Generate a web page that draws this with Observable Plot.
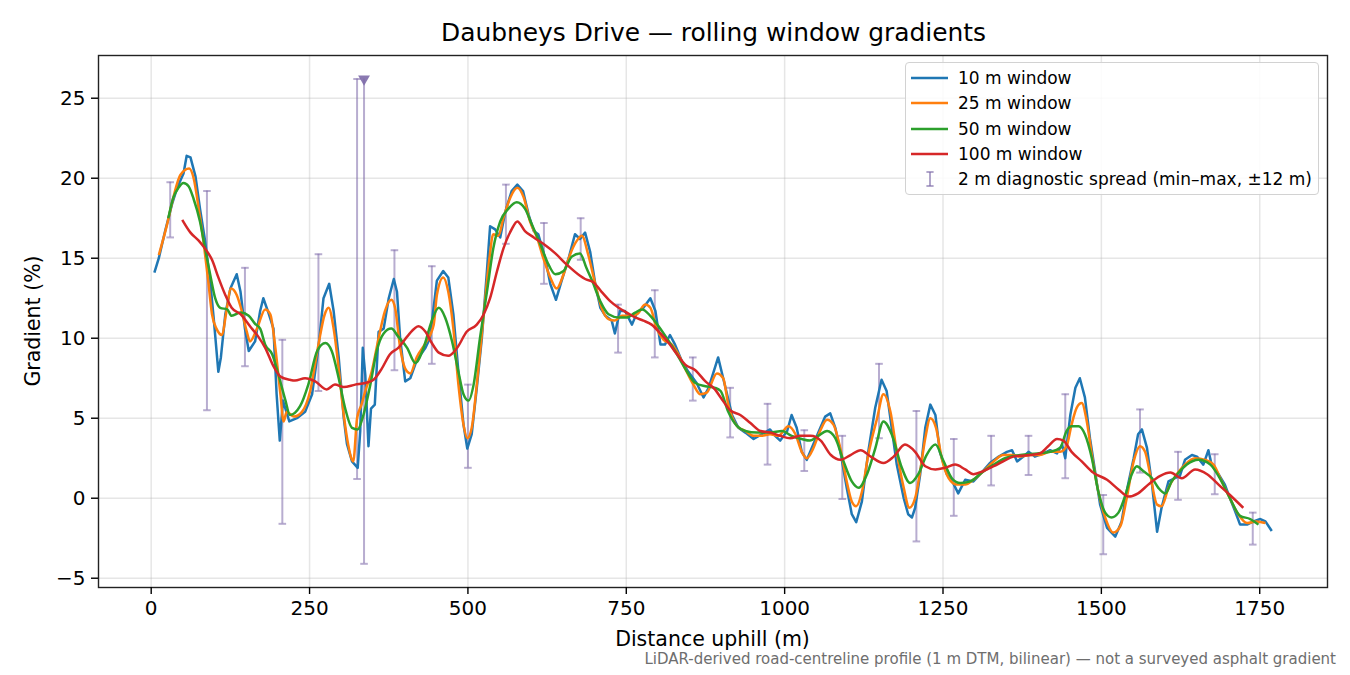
<!DOCTYPE html>
<html><head><meta charset="utf-8">
<script src="https://cdn.jsdelivr.net/npm/d3@7"></script>
<script src="https://cdn.jsdelivr.net/npm/@observablehq/plot@0.6"></script>
<style>
body{margin:0;background:#fff;font-family:"DejaVu Sans",sans-serif;}
#wrap{position:relative;width:1350px;height:675px;overflow:hidden;background:#fff;}
.abs{position:absolute;white-space:nowrap;line-height:1;color:#000;}
</style></head><body><div id="wrap"></div>
<script>
// ---- data: [distance uphill (m), gradient (%)] ----
const win10 = [[5,14.1],[12,15.0],[22,16.7],[33,18.4],[41,19.4],[51,20.3],[56,21.4],[62,21.3],[70,20.1],[77,18.1],[85,16.1],[93,13.6],[99,11.1],[106,7.9],[110,8.8],[117,11.5],[125,13.1],[135,14.0],[141,12.9],[148,10.6],[154,9.2],[164,9.8],[172,11.7],[177,12.5],[185,11.6],[193,10.6],[198,6.5],[203,3.6],[208,6.1],[218,4.8],[230,5.0],[243,5.4],[254,6.5],[264,9.4],[272,12.5],[281,13.4],[288,11.7],[296,8.8],[304,5.0],[309,3.4],[317,2.3],[326,1.9],[330,4.2],[334,9.4],[338,7.7],[343,3.25],[347,5.6],[353,5.85],[359,10.4],[367,10.6],[375,12.5],[383,13.7],[388,12.9],[393,10.0],[401,7.3],[409,7.5],[419,8.6],[433,9.4],[440,10.0],[451,13.6],[461,14.2],[469,13.8],[477,11.5],[485,7.9],[493,4.6],[499,3.1],[506,4.0],[514,6.9],[522,10.0],[530,14.2],[535,17.0],[543,16.8],[551,16.3],[559,17.9],[569,19.2],[578,19.6],[587,19.2],[596,17.7],[604,16.7],[611,16.5],[622,15.0],[630,13.4],[639,12.4],[648,13.6],[659,15.0],[669,16.5],[677,16.2],[685,16.6],[693,15.4],[701,13.4],[709,11.9],[717,11.4],[727,11.1],[732,10.3],[740,11.7],[748,11.7],[759,10.85],[767,11.6],[777,11.9],[788,12.5],[796,11.7],[804,9.6],[811,9.6],[819,10.2],[827,9.6],[838,8.55],[848,7.9],[861,7.2],[872,6.3],[880,6.9],[895,8.8],[903,7.5],[917,5.2],[927,4.4],[938,4.1],[951,3.7],[964,4.0],[977,4.3],[985,3.9],[993,3.6],[1004,4.2],[1011,5.2],[1019,4.4],[1027,2.9],[1035,2.4],[1045,3.35],[1053,4.1],[1064,5.1],[1072,5.3],[1080,4.4],[1088,2.9],[1098,0.65],[1106,-1.0],[1113,-1.5],[1122,-0.2],[1132,2.9],[1143,5.65],[1153,7.4],[1161,6.7],[1169,4.4],[1177,2.1],[1188,0.0],[1195,-1.0],[1201,-1.2],[1206,-0.6],[1214,1.5],[1222,4.4],[1230,5.85],[1238,5.2],[1245,2.9],[1256,1.5],[1266,0.95],[1274,0.3],[1285,1.15],[1298,1.05],[1311,1.6],[1324,2.2],[1338,2.6],[1351,2.9],[1359,3.0],[1367,2.3],[1377,2.6],[1385,2.9],[1395,2.6],[1409,2.8],[1419,3.0],[1430,2.8],[1438,3.35],[1443,2.5],[1451,5.2],[1459,6.9],[1466,7.5],[1474,6.3],[1482,3.75],[1490,1.7],[1498,-0.4],[1509,-1.85],[1522,-2.4],[1532,-1.45],[1540,0.45],[1551,2.5],[1558,4.0],[1564,4.3],[1572,3.15],[1580,0.85],[1588,-2.1],[1595,-0.6],[1606,1.05],[1616,1.25],[1624,1.4],[1632,2.4],[1643,2.7],[1651,2.6],[1661,2.1],[1669,3.0],[1674,2.1],[1685,1.5],[1695,0.85],[1703,0.0],[1711,-0.8],[1719,-1.65],[1730,-1.65],[1740,-1.45],[1751,-1.3],[1759,-1.45],[1769,-2.05]];

const win25 = [[12,15.2],[25,17.1],[35,18.8],[46,20.2],[60,20.6],[67,20.0],[75,18.1],[83,15.9],[90,13.6],[96,11.5],[103,10.6],[112,10.2],[118,11.5],[126,13.1],[135,12.7],[143,11.7],[151,10.4],[156,9.8],[167,10.6],[180,11.8],[188,11.5],[196,9.4],[204,6.5],[209,4.8],[214,5.4],[225,5.1],[238,5.4],[251,6.7],[264,9.6],[274,11.5],[280,11.9],[288,10.6],[296,8.1],[304,5.2],[311,3.35],[319,2.3],[325,5.0],[332,5.85],[338,6.7],[348,7.9],[359,10.0],[369,11.7],[379,12.4],[385,11.9],[393,9.4],[401,8.1],[409,7.8],[419,8.8],[433,9.7],[446,10.85],[451,12.7],[461,13.8],[469,12.9],[477,10.6],[485,7.1],[493,4.6],[499,3.75],[506,4.4],[514,7.1],[525,11.5],[534,15.0],[540,16.5],[548,16.4],[556,17.5],[567,18.8],[578,19.4],[588,18.8],[598,17.3],[609,16.3],[619,15.0],[630,13.8],[640,13.1],[651,14.0],[661,15.2],[672,16.1],[680,16.4],[690,15.2],[701,13.4],[711,11.9],[722,11.2],[732,11.1],[743,11.4],[756,11.4],[767,11.5],[780,12.1],[788,11.9],[798,10.6],[809,9.9],[822,9.6],[832,9.0],[843,8.1],[856,7.1],[867,6.5],[877,6.6],[893,7.8],[903,7.5],[911,5.85],[925,4.5],[938,4.2],[951,3.9],[964,3.9],[977,4.0],[990,3.9],[1006,4.5],[1017,4.0],[1027,2.9],[1035,2.5],[1045,3.1],[1056,4.2],[1067,4.9],[1077,4.6],[1088,3.1],[1098,1.05],[1106,-0.2],[1113,-0.5],[1122,0.4],[1132,2.7],[1146,5.0],[1156,6.5],[1167,5.4],[1177,2.9],[1188,0.65],[1197,-0.6],[1206,0.0],[1214,1.7],[1222,3.75],[1230,5.0],[1239,4.4],[1248,2.5],[1259,1.25],[1272,0.85],[1285,0.85],[1298,1.15],[1314,1.7],[1330,2.3],[1345,2.7],[1361,2.7],[1372,2.6],[1388,2.7],[1403,2.7],[1419,2.9],[1435,2.9],[1445,3.25],[1453,4.6],[1461,5.65],[1469,5.95],[1477,4.8],[1485,2.7],[1495,0.45],[1506,-1.2],[1519,-2.15],[1530,-1.75],[1540,0.0],[1551,2.3],[1561,3.25],[1569,2.9],[1577,1.5],[1588,-0.4],[1595,-0.5],[1606,0.65],[1619,1.5],[1632,2.1],[1648,2.5],[1664,2.4],[1677,2.1],[1690,1.05],[1703,0.0],[1716,-1.0],[1730,-1.55],[1745,-1.45],[1759,-1.55]];

const win50 = [[27,17.5],[35,18.8],[43,19.4],[51,19.7],[59,19.5],[67,18.7],[77,17.3],[85,15.6],[93,14.0],[101,12.5],[109,11.9],[120,11.8],[127,11.4],[141,11.6],[154,11.4],[164,10.9],[172,10.6],[180,9.6],[191,9.0],[201,7.7],[212,6.1],[219,5.2],[235,5.75],[248,7.1],[262,9.2],[275,9.7],[285,9.2],[296,7.5],[306,5.65],[317,4.4],[326,4.3],[335,5.2],[346,7.1],[356,9.2],[367,10.3],[379,10.6],[390,10.1],[404,9.4],[417,8.45],[430,9.4],[443,11.1],[454,11.9],[464,11.3],[475,9.8],[485,7.9],[493,6.5],[501,6.1],[509,7.1],[519,10.0],[530,12.9],[540,15.6],[551,17.3],[564,18.1],[577,18.5],[590,18.1],[601,17.1],[614,15.9],[625,14.8],[638,14.0],[651,14.2],[664,15.1],[677,15.3],[687,14.4],[696,13.6],[709,12.3],[722,11.5],[738,11.3],[751,11.3],[764,11.6],[775,11.8],[788,11.4],[801,10.75],[814,10.0],[827,9.2],[843,8.1],[859,7.2],[875,7.0],[890,6.9],[899,6.7],[911,5.4],[925,4.5],[938,4.2],[956,4.1],[977,4.1],[996,4.2],[1011,3.9],[1027,3.7],[1040,3.6],[1053,3.9],[1067,4.2],[1080,3.75],[1093,2.3],[1106,1.05],[1117,0.65],[1130,1.5],[1143,3.1],[1156,4.8],[1169,4.0],[1185,1.9],[1198,0.95],[1211,1.5],[1224,2.7],[1238,3.35],[1251,2.3],[1264,1.25],[1277,0.95],[1293,1.05],[1311,1.6],[1330,2.1],[1348,2.5],[1372,2.7],[1399,2.8],[1419,2.9],[1435,3.15],[1445,4.2],[1453,4.5],[1464,4.5],[1474,4.0],[1485,2.5],[1495,0.45],[1506,-0.9],[1516,-1.2],[1527,-0.9],[1538,0.2],[1548,1.5],[1556,2.0],[1566,1.7],[1580,1.25],[1590,0.65],[1601,0.3],[1611,1.05],[1622,1.6],[1635,2.1],[1653,2.4],[1672,2.1],[1687,1.25],[1703,0.0],[1719,-1.1],[1735,-1.3],[1748,-1.65]];

const win100 = [[49,17.4],[62,16.6],[75,16.1],[85,15.6],[96,14.9],[106,13.8],[117,12.7],[127,11.9],[141,11.5],[156,10.75],[169,10.1],[180,9.4],[193,8.25],[204,7.6],[219,7.4],[227,7.35],[243,7.5],[259,7.3],[277,6.8],[290,7.1],[304,6.95],[322,7.1],[338,7.2],[351,7.4],[364,8.1],[377,9.0],[390,9.4],[406,10.2],[422,10.75],[433,10.4],[443,9.7],[454,9.1],[469,8.9],[483,9.4],[498,10.4],[514,10.85],[525,11.5],[535,12.5],[546,14.2],[556,15.6],[569,16.8],[578,17.3],[590,16.7],[604,16.3],[619,15.9],[638,15.3],[656,14.6],[677,13.9],[685,13.7],[698,13.5],[711,12.9],[725,12.3],[738,11.9],[751,11.6],[764,11.3],[777,11.1],[790,10.85],[804,10.3],[817,9.7],[830,9.0],[843,8.35],[859,8.0],[875,7.3],[890,6.8],[899,6.3],[914,5.5],[930,5.2],[946,4.7],[962,4.2],[978,4.1],[993,3.9],[1009,3.75],[1025,3.9],[1041,3.9],[1057,3.6],[1073,2.7],[1088,2.4],[1104,2.7],[1120,3.0],[1136,2.6],[1156,2.2],[1172,2.6],[1190,3.35],[1206,2.9],[1222,2.0],[1238,1.8],[1253,1.9],[1269,2.1],[1285,1.8],[1298,1.5],[1314,1.7],[1330,2.0],[1345,2.3],[1361,2.6],[1372,2.65],[1388,2.7],[1403,2.8],[1416,3.25],[1430,3.7],[1440,3.6],[1453,2.9],[1469,2.3],[1487,1.6],[1509,1.15],[1527,0.55],[1543,0.1],[1558,0.3],[1574,0.85],[1593,1.4],[1609,1.6],[1627,1.25],[1648,1.8],[1667,1.5],[1685,0.85],[1703,0.2],[1724,-0.6]];

// 2 m diagnostic spread (min–max within ±12 m)
const spreadDist = [30,88,148,207,264,325,384,443,500,560,620,678,737,795,855,914,973,1031,1091,1149,1208,1267,1326,1385,1443,1503,1561,1621,1679,1739];
const spreadMin  = [16.3,5.5,8.25,-1.6,6.7,1.2,8.0,8.4,1.9,15.9,13.4,14.9,9.1,8.8,6.1,3.8,2.1,1.7,-0.05,3.75,-2.7,-1.1,0.8,1.45,1.25,-3.5,1.6,-0.1,0.25,-2.9];
const spreadMax  = [19.75,19.2,14.4,9.9,15.25,26.2,15.5,14.5,7.1,19.6,17.2,17.5,12.1,13.0,8.8,6.9,5.9,4.25,3.9,8.4,5.45,3.7,3.9,3.9,6.5,0.2,5.55,2.9,2.75,-0.9];
// spread clipped at the top of the axis (marked with ▼)
const clippedDist = [336];
const clippedMin  = [-4.1];
const clippedMax  = [26.2];

const xTicks = [0,250,500,750,1000,1250,1500,1750];
const yTicks = [-5,0,5,10,15,20,25];
const seriesNames = ["10 m window","25 m window","50 m window","100 m window"];
const seriesColors = ["#1f77b4","#ff7f0e","#2ca02c","#d62728"];
const seriesCurves = ["linear","monotone-x","monotone-x","monotone-x"];
const spreadColor = "#7d6aa9";

// ---- build ----
const rowsOf = arr => arr.map(([d, g]) => ({d, g}));
const spreads = spreadDist.map((d, i) => ({d, lo: spreadMin[i], hi: spreadMax[i]}));
const clipped = clippedDist.map((d, i) => ({d, lo: clippedMin[i], hi: clippedMax[i]}));
const cap = {draw(ctx) { ctx.moveTo(-3.8, 0); ctx.lineTo(3.8, 0); }};

const lineMarks = [win10, win25, win50, win100].map((arr, i) =>
  Plot.line(rowsOf(arr), {x: "d", y: "g", stroke: seriesColors[i], curve: seriesCurves[i], strokeWidth: 2.5, strokeLinejoin: "round", strokeLinecap: "butt"}));

const chart = Plot.plot({
  width: 1350, height: 675,
  marginLeft: 98, marginRight: 23, marginTop: 55, marginBottom: 88,
  style: {fontFamily: "DejaVu Sans, sans-serif", fontSize: "20px", color: "#000", background: "#fff"},
  x: {domain: [-83.2, 1857], label: null},
  y: {domain: [-5.58, 27.67], label: null},
  marks: [
    Plot.gridX(xTicks, {stroke: "#b0b0b0", strokeOpacity: 0.32, strokeWidth: 1.5}),
    Plot.gridY(yTicks, {stroke: "#b0b0b0", strokeOpacity: 0.32, strokeWidth: 1.5}),
    Plot.ruleX(spreads, {x: "d", y1: "lo", y2: "hi", stroke: spreadColor, strokeOpacity: 0.55, strokeWidth: 2}),
    Plot.dot(spreads, {x: "d", y: "lo", symbol: cap, stroke: spreadColor, strokeOpacity: 0.55, strokeWidth: 2, fill: "none"}),
    Plot.dot(spreads, {x: "d", y: "hi", symbol: cap, stroke: spreadColor, strokeOpacity: 0.55, strokeWidth: 2, fill: "none"}),
    Plot.ruleX(clipped, {x: "d", y1: "lo", y2: "hi", stroke: spreadColor, strokeOpacity: 0.55, strokeWidth: 2}),
    Plot.dot(clipped, {x: "d", y: "lo", symbol: cap, stroke: spreadColor, strokeOpacity: 0.55, strokeWidth: 2, fill: "none"}),
    ...lineMarks,
    Plot.dot(clipped, {x: "d", y: "hi", symbol: "triangle", rotate: 180, r: 4.4, fill: spreadColor, fillOpacity: 0.9, stroke: "none"}),
    Plot.frame({stroke: "#222", strokeWidth: 1.4}),
    Plot.axisX(xTicks, {tickSize: 7, tickPadding: 6, tickFormat: d3.format("d"), fontSize: 20, strokeWidth: 1.4, label: null}),
    Plot.axisY(yTicks, {tickSize: 7, tickPadding: 6, tickFormat: d3.format("d"), fontSize: 20, strokeWidth: 1.4, label: null})
  ]
});

const wrap = document.getElementById("wrap");
wrap.appendChild(chart);

function addText(txt, css) {
  const el = document.createElement("div");
  el.className = "abs";
  el.textContent = txt;
  Object.assign(el.style, css);
  wrap.appendChild(el);
  return el;
}
addText("Daubneys Drive — rolling window gradients", {left: "713.5px", top: "33px", fontSize: "24.9px", transform: "translate(-50%,-50%)"});
addText("Distance uphill (m)", {left: "712.5px", top: "639px", fontSize: "20.5px", transform: "translate(-50%,-50%)"});
addText("Gradient (%)", {left: "33px", top: "321px", fontSize: "20.5px", transform: "translate(-50%,-50%) rotate(-90deg)"});
addText("LiDAR-derived road-centreline profile (1 m DTM, bilinear) — not a surveyed asphalt gradient",
  {right: "14px", top: "652px", fontSize: "15px", color: "#6e6e6e"});

// legend
const leg = document.createElement("div");
Object.assign(leg.style, {position: "absolute", left: "905px", top: "62px", width: "412px", height: "131px",
  border: "1.4px solid #d2d2d2", borderRadius: "4px", background: "rgba(255,255,255,0.85)"});
wrap.appendChild(leg);
const legItems = seriesNames.map((n, i) => ({label: n, color: seriesColors[i], kind: "line"}))
  .concat([{label: "2 m diagnostic spread (min–max, ±12 m)", color: spreadColor, kind: "bar"}]);
legItems.forEach((it, i) => {
  const cy = 15 + i * 25.3;
  const svg = d3.create("svg").attr("width", 40).attr("height", 20)
    .style("position", "absolute").style("left", "4px").style("top", (cy - 10) + "px");
  if (it.kind === "line") {
    svg.append("line").attr("x1", 1).attr("x2", 38).attr("y1", 10).attr("y2", 10)
      .attr("stroke", it.color).attr("stroke-width", 2.6);
  } else {
    const g = svg.append("g").attr("stroke", it.color).attr("stroke-opacity", 0.6).attr("stroke-width", 2);
    g.append("line").attr("x1", 20).attr("x2", 20).attr("y1", 3).attr("y2", 17);
    g.append("line").attr("x1", 16.4).attr("x2", 23.6).attr("y1", 3).attr("y2", 3);
    g.append("line").attr("x1", 16.4).attr("x2", 23.6).attr("y1", 17).attr("y2", 17);
  }
  leg.appendChild(svg.node());
  const t = document.createElement("div");
  t.className = "abs";
  t.textContent = it.label;
  Object.assign(t.style, {left: "52px", top: cy + "px", fontSize: "17px", transform: "translateY(-50%)"});
  leg.appendChild(t);
});
</script></body></html>
